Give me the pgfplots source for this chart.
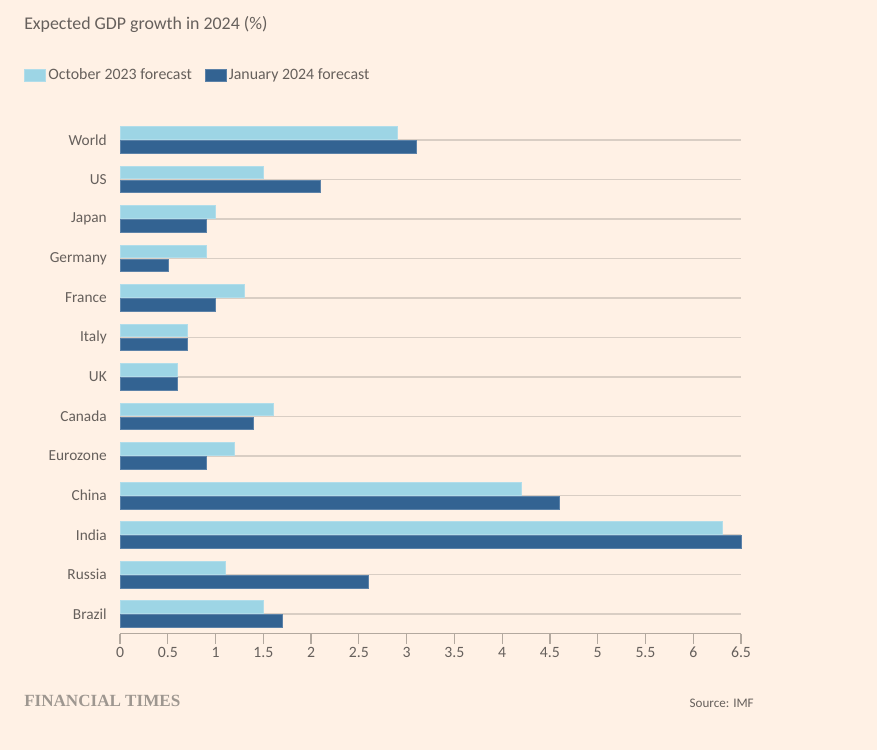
\documentclass[border=0pt]{standalone}
\usepackage{fontspec}
\setmainfont{Carlito}
\newfontfamily\ftlogo{Liberation Serif}
\usepackage{pgfplots}
\pgfplotsset{compat=1.18}

\definecolor{ftbg}{HTML}{FFF1E5}
\definecolor{fttext}{HTML}{66605C}
\definecolor{ftlight}{HTML}{9DD5E5}
\definecolor{ftdark}{HTML}{336392}
\definecolor{ftgrid}{HTML}{D9CEC4}
\definecolor{ftaxis}{HTML}{B3A99F}
\definecolor{ftlogogrey}{HTML}{9E9790}

\begin{document}
\begin{tikzpicture}[x=0.75pt,y=0.75pt]
  % page background
  \fill[ftbg] (0,0) rectangle (877,750);

  % title and footer
  \node[anchor=base west, inner sep=0pt, text=fttext, font=\fontsize{13.4pt}{15pt}\selectfont]
    at (24,720) {Expected GDP growth in 2024 (\%)};
  \node[anchor=base west, inner sep=0pt, text=ftlogogrey, font=\ftlogo\bfseries\fontsize{12.8pt}{14pt}\selectfont]
    at (24,44) {FINANCIAL TIMES};
  \node[anchor=base east, inner sep=0pt, text=fttext, font=\fontsize{9.8pt}{12pt}\selectfont]
    at (754,43) {Source: IMF};

  \begin{axis}[
    at={(90pt,87.1875pt)}, anchor=south west,
    scale only axis,
    width=465.75pt, height=385.125pt,
    xmin=0, xmax=6.5, ymin=-0.5, ymax=12.5,
    xtick={0,0.5,...,6.5},
    ytick={0,...,12},
    yticklabels={Brazil,Russia,India,China,Eurozone,Canada,UK,Italy,France,Germany,Japan,US,World},
    axis x line*=bottom,
    axis y line*=left,
    y axis line style={draw=none},
    x axis line style={draw=ftaxis, line width=0.9pt},
    xtick style={draw=ftaxis, line width=0.9pt},
    ytick style={draw=none},
    xtick align=outside,
    major tick length=7.5pt,
    ymajorgrids,
    major grid style={draw=ftgrid, line width=0.9pt},
    /pgf/number format/assume math mode=true,
    /pgf/number format/fixed,
    xticklabel style={font=\fontsize{11.8pt}{13pt}\selectfont, text=fttext, inner sep=0pt, yshift=-2.5pt},
    yticklabel style={font=\fontsize{11.5pt}{13pt}\selectfont, text=fttext, inner sep=0pt, anchor=east, xshift=-2.25pt},
    xbar,
    bar width=9.4pt,
    legend columns=2,
    legend cell align=left,
    legend style={at={(-0.1546,1.088)}, anchor=west, draw=none, fill=none,
      inner sep=0pt, font=\fontsize{11.9pt}{13pt}\selectfont, text=fttext,
      /tikz/every even column/.append style={column sep=7.5pt}},
    legend image code/.code={\fill (0pt,-4.5pt) rectangle (15.75pt,4.5pt);},
    clip=false,
  ]
    % October 2023 forecast (upper bar of each pair)
    \addplot[fill=ftlight, draw=ftlight!80!white, line width=0.4pt, bar shift=5.25pt]
      coordinates {(2.9,12) (1.5,11) (1.0,10) (0.9,9) (1.3,8) (0.7,7) (0.6,6)
                   (1.6,5) (1.2,4) (4.2,3) (6.3,2) (1.1,1) (1.5,0)};
    % January 2024 forecast (lower bar of each pair)
    \addplot[fill=ftdark, draw=ftdark!80!white, line width=0.4pt, bar shift=-5.25pt]
      coordinates {(3.1,12) (2.1,11) (0.9,10) (0.5,9) (1.0,8) (0.7,7) (0.6,6)
                   (1.4,5) (0.9,4) (4.6,3) (6.5,2) (2.6,1) (1.7,0)};
    \legend{October 2023 forecast, January 2024 forecast}
  \end{axis}
\end{tikzpicture}
\end{document}
